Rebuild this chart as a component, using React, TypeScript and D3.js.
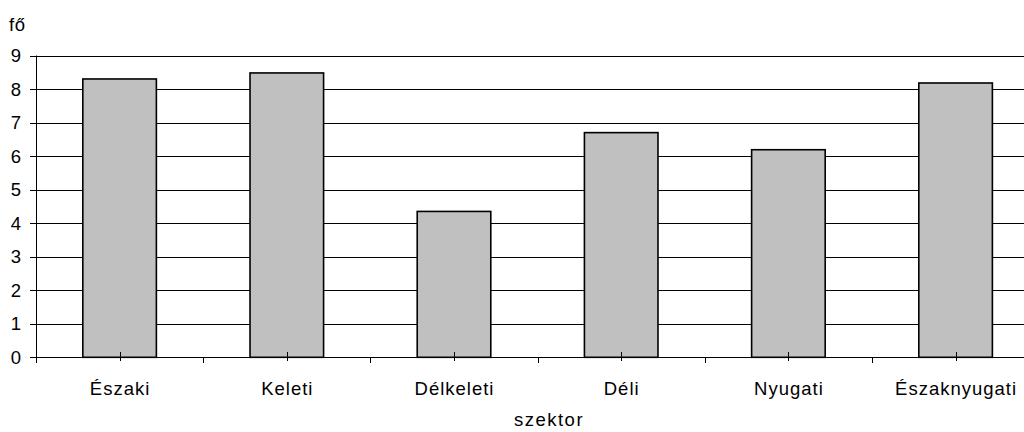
import React from "react";
import * as d3 from "d3";

const categories = ["Északi", "Keleti", "Délkeleti", "Déli", "Nyugati", "Északnyugati"];
const values = [8.3, 8.48, 4.35, 6.7, 6.19, 8.18];
const yTicks = [0, 1, 2, 3, 4, 5, 6, 7, 8, 9];
const yLabel = "fő";
const xLabel = "szektor";

const W = 1024;
const H = 432;
const left = 36;
const step = 167.2;
const top = 55.5;
const bottom = 357.3;
const font = "'Liberation Sans', Arial, sans-serif";
const fs = 18.5;
const ls = 1;

export default function App() {
  const x = d3.scaleBand<string>().domain(categories).range([left, left + step * categories.length]).padding(0);
  const y = d3.scaleLinear().domain([0, 9]).range([bottom, top]);
  const bw = x.bandwidth() * 0.44;
  const right = left + step * categories.length;
  return (
    <svg width={W} height={H} style={{ position: "absolute", left: 0, top: 0, background: "#fff" }}>
      <text x={9} y={31} fontFamily={font} fontSize={fs} letterSpacing={0.5} fill="#000">{yLabel}</text>
      {yTicks.map((t) => (
        <g key={t}>
          {t > 0 && (
            <line x1={left} x2={right} y1={Math.round(y(t)) + 0.5} y2={Math.round(y(t)) + 0.5} stroke="#000" strokeWidth={1} />
          )}
          <line x1={30} x2={left} y1={Math.round(y(t)) + 0.5} y2={Math.round(y(t)) + 0.5} stroke="#000" strokeWidth={1} />
          <text x={21} y={y(t)} dy="0.36em" textAnchor="end" fontFamily={font} fontSize={fs} fill="#000">{t}</text>
        </g>
      ))}
      {categories.map((c, i) => (
        <rect
          key={c}
          x={(x(c) as number) + (x.bandwidth() - bw) / 2}
          y={y(values[i])}
          width={bw}
          height={bottom - y(values[i])}
          fill="#c0c0c0"
          stroke="#000"
          strokeWidth={1.6}
        />
      ))}
      <line x1={left + 0.5} x2={left + 0.5} y1={top} y2={363} stroke="#000" strokeWidth={1} />
      <line x1={left} x2={right} y1={Math.round(bottom) + 0.5} y2={Math.round(bottom) + 0.5} stroke="#000" strokeWidth={1} />
      {categories.map((c, i) => (
        <g key={"t" + c}>
          {i > 0 && (
            <line x1={Math.round(x(c) as number) + 0.5} x2={Math.round(x(c) as number) + 0.5} y1={bottom} y2={363} stroke="#000" strokeWidth={1} />
          )}
          <line
            x1={Math.round((x(c) as number) + x.bandwidth() / 2) + 0.5}
            x2={Math.round((x(c) as number) + x.bandwidth() / 2) + 0.5}
            y1={352}
            y2={361}
            stroke="#000"
            strokeWidth={1}
          />
          <text x={(x(c) as number) + x.bandwidth() / 2 + ls / 2} y={395} textAnchor="middle" fontFamily={font} fontSize={fs} letterSpacing={ls} fill="#000">{c}</text>
        </g>
      ))}
      <text x={549} y={426} textAnchor="middle" fontFamily={font} fontSize={fs} letterSpacing={ls + 0.5} fill="#000">{xLabel}</text>
    </svg>
  );
}
